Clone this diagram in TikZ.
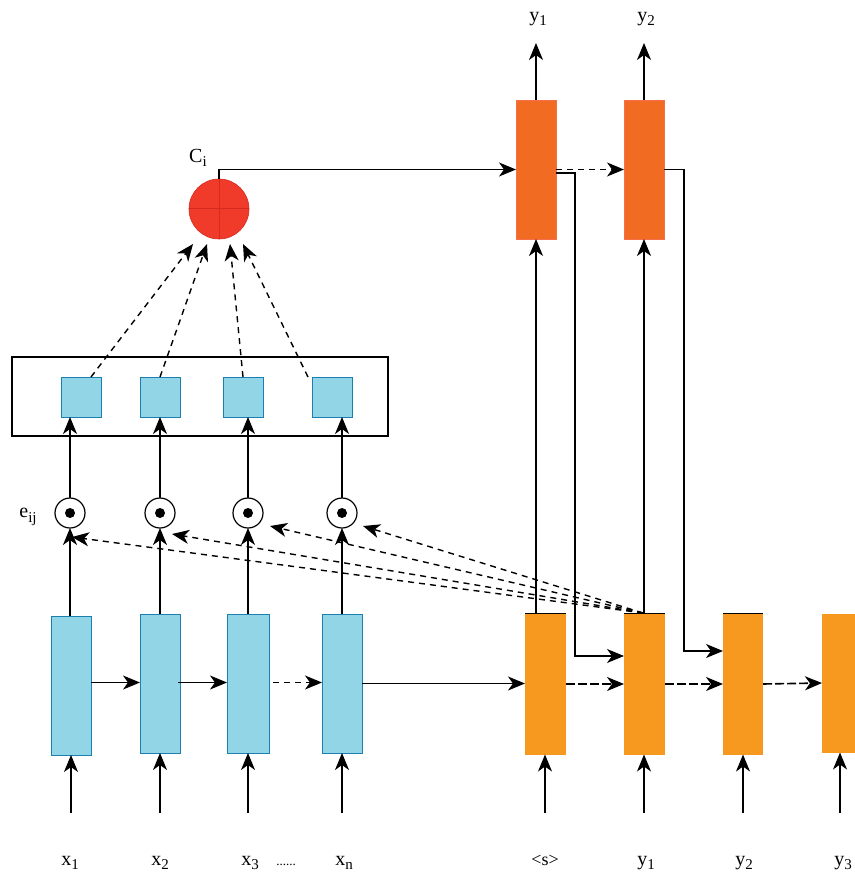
\documentclass[tikz,border=0pt]{standalone}
\usepackage{fontspec}
\setmainfont{Liberation Serif}
\usetikzlibrary{arrows.meta,calc}
\definecolor{encfill}{HTML}{92D5E6}
\definecolor{encdraw}{HTML}{1A80B0}
\definecolor{decfill}{HTML}{F7991E}
\definecolor{outfill}{HTML}{F26B23}
\definecolor{outdraw}{HTML}{F5704A}
\definecolor{cfill}{HTML}{F03B2B}
\definecolor{cline}{HTML}{D42A20}
\newcommand{\lsub}[1]{\raisebox{-4.5pt}{\fontsize{15}{15}\selectfont #1}}
\begin{document}
\begin{tikzpicture}[x=1pt,y=-1pt,
  every node/.style={inner sep=0pt,outer sep=0pt},
  lbl/.style={font=\fontsize{20}{24}\selectfont},
  enc/.style={draw=encdraw,fill=encfill,line width=1pt,minimum width=40pt,minimum height=139pt},
  dec/.style={fill=decfill,minimum width=41pt,minimum height=141pt},
  outb/.style={draw=outdraw,fill=outfill,line width=0.8pt,minimum width=40pt,minimum height=139pt},
  sq/.style={draw=encdraw,fill=encfill,line width=1pt,minimum width=40pt,minimum height=40pt},
  odot/.style={circle,draw,line width=1.2pt,minimum size=30pt},
  tip/.style={-{Stealth[length=17pt,width=14pt,inset=5pt]}},
  plain/.style={line width=1.2pt},
  arr/.style={plain,tip},
  darr/.style={arr,line width=1.4pt,dash pattern=on 6pt off 5pt},
  dthick/.style={arr,line width=1.6pt,dash pattern=on 9pt off 3pt}
]
\useasboundingbox (0,0) rectangle (854,877);

% encoder boxes
\node[enc] (e1) at (71,685.5) {};
\node[enc] (e2) at (160,683.5) {};
\node[enc,minimum width=42pt] (e3) at (248,683.5) {};
\node[enc] (e4) at (342,683.5) {};

% decoder boxes
\node[dec] (d0) at (545.5,684) {};
\node[dec] (d1) at (644.5,684) {};
\node[dec,minimum width=40pt] (d2) at (743,684) {};
\node[dec,minimum width=40pt,minimum height=139pt] (d3) at (842,683) {};
\draw[line width=1.2pt] (d0.north west) -- (d0.north east);
\draw[line width=1.2pt] (d1.north west) -- (d1.north east);
\draw[line width=1.2pt] (d2.north west) -- (d2.north east);

% output boxes
\node[outb] (o1) at (536,169.5) {};
\node[outb] (o2) at (644,169.5) {};

% odot circles
\foreach \i/\x in {1/70,2/160,3/248,4/342}{
  \node[odot] (c\i) at (\x,513) {};
  \fill (c\i.center) circle (5pt);
}

% attention squares and frame
\node[sq] (s1) at (81,397) {};
\node[sq] (s2) at (160,397) {};
\node[sq] (s3) at (243,397) {};
\node[sq] (s4) at (332,397) {};
\draw[plain] (12,357) rectangle (388,436);

% context circle
\node[circle,fill=cfill,draw=cline,line width=0.6pt,minimum size=60pt] (C) at (219,209) {};
\draw[cline,line width=1pt] (C.west) -- (C.east);
\draw[cline,line width=1pt] (C.north) -- (C.south);

% labels
\node[lbl] (lci) at (198,158) {C\lsub{i}};
\node[lbl] (leij) at (28,517) {e\lsub{ij}};
\node[lbl] (ly1t) at (538,19) {y\lsub{1}};
\node[lbl] (ly2t) at (646,19) {y\lsub{2}};
\node[lbl] (lx1) at (70,863) {x\lsub{1}};
\node[lbl] (lx2) at (160,863) {x\lsub{2}};
\node[lbl] (lx3) at (250,863) {x\lsub{3}};
\node[lbl] (ldots) at (286,865) {\fontsize{13}{15}\selectfont ......};
\node[lbl] (lxn) at (344,863) {x\lsub{n}};
\node[lbl] (ls) at (545,860) {\fontsize{18}{20}\selectfont <s>};
\node[lbl] (ly1) at (646,863) {y\lsub{1}};
\node[lbl] (ly2) at (744,863) {y\lsub{2}};
\node[lbl] (ly3) at (843,863) {y\lsub{3}};

% input arrows
\foreach \n/\x in {e1/71,e2/160,e3/248,e4/342,d0/545,d1/644,d2/743,d3/840}{
  \coordinate (in\n) at (\x,813);
  \draw[arr] (in\n) -- (in\n |- \n.south);
}

% encoder up through odot to squares
\foreach \i in {1,2,3,4}{
  \draw[arr] (e\i.north -| c\i.south) -- (c\i.south);
  \draw[arr] (c\i.north) -- (c\i.north |- s\i.south);
}

% encoder recurrence
\draw[arr] ([yshift=3pt]e1.east) -- ([yshift=3pt]e1.east -| e2.west);
\draw[arr] ([xshift=-2pt,yshift=1pt]e2.east) -- ([yshift=1pt]e2.east -| e3.west);
\draw[darr] ([xshift=4pt,yshift=1pt]e3.east) -- ([yshift=1pt]e3.east -| e4.west);
\draw[arr] (e4.east) -- (e4.east -| d0.west);

% decoder recurrence
\draw[dthick] (d0.east) -- (d1.west);
\draw[dthick] (d1.east) -- (d2.west);
\draw[dthick] (d2.east) -- (d3.west);

% squares to context
\coordinate (t1) at (193,244);
\coordinate (t2) at (207,244);
\coordinate (t3) at (230,244);
\coordinate (t4) at (243,244);
\draw[darr] ([xshift=10pt]s1.north) -- (t1);
\draw[darr] (s2.north) -- (t2);
\draw[darr] (s3.north) -- (t3);
\draw[darr] ([xshift=-24pt]s4.north) -- (t4);

% context to output
\draw[arr] (C.north) |- (o1.west);
\draw[darr] (o1.east) -- (o2.west);

% output to next decoder
\draw[arr] ([yshift=-3.5pt]o1.east) -- ++(19,0) |- ([yshift=28pt]d1.west);
\draw[arr] (o2.east) -- ++(20,0) |- ([yshift=33pt]d2.west);

% decoder up to outputs
\draw[arr] (o1.south |- d0.north) -- (o1.south);
\draw[arr] (o2.south |- d1.north) -- (o2.south);

% outputs up
\coordinate (u1) at (536,43);
\coordinate (u2) at (644,43);
\draw[arr] (o1.north) -- (u1);
\draw[arr] (o2.north) -- (u2);

% decoder state to odots
\coordinate (src) at (643,613);
\coordinate (a1) at (72,537);
\coordinate (a2) at (172,534);
\coordinate (a3) at (270,526);
\coordinate (a4) at (363,526);
\foreach \k in {1,2,3,4}{
  \draw[darr] (src) -- (a\k);
}
\end{tikzpicture}
\end{document}
